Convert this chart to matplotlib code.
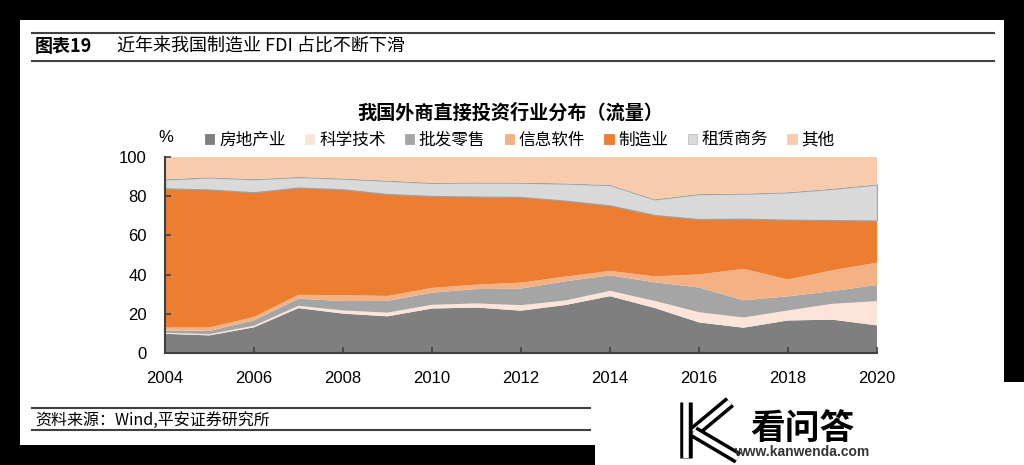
import matplotlib
matplotlib.use("Agg")
import matplotlib.pyplot as plt
from matplotlib.patches import Rectangle, Patch
from matplotlib.lines import Line2D

plt.rcParams['font.family'] = ['Noto Sans CJK SC', 'DejaVu Sans']

years = list(range(2004, 2021))
labels = ['房地产业', '科学技术', '批发零售', '信息软件', '制造业', '租赁商务', '其他']
real_estate = [9.8, 9.0, 13.1, 22.9, 20.1, 18.7, 22.7, 23.2, 21.6, 24.5, 29.0, 23.0, 15.6, 12.9, 16.6, 17.0, 14.1]
science = [0.5, 0.6, 0.8, 1.2, 1.6, 1.9, 1.9, 2.1, 2.8, 2.3, 2.7, 3.6, 5.2, 5.2, 5.1, 8.1, 12.4]
wholesale = [1.2, 1.7, 2.8, 3.6, 4.8, 6.0, 6.2, 7.3, 8.5, 9.8, 7.9, 9.5, 12.6, 8.8, 7.2, 6.5, 8.2]
info_soft = [1.5, 1.7, 1.7, 2.0, 3.0, 2.5, 2.4, 2.3, 3.0, 2.4, 2.3, 3.0, 6.7, 16.0, 8.6, 10.6, 11.4]
manufacturing = [71.0, 70.4, 63.6, 54.7, 54.0, 52.0, 46.9, 44.9, 43.7, 38.7, 33.4, 31.3, 28.2, 25.6, 30.5, 25.6, 21.5]
leasing = [4.6, 6.2, 6.7, 5.4, 5.5, 6.8, 6.7, 7.2, 7.3, 8.8, 10.4, 8.0, 12.8, 12.8, 14.0, 16.0, 18.4]
others = [11.4, 10.4, 11.3, 10.2, 11.0, 12.1, 13.2, 13.0, 13.1, 13.5, 14.3, 21.6, 18.9, 18.7, 18.0, 16.2, 14.0]
colors = ['#7f7f7f', '#fde4d8', '#a5a5a5', '#f4b183', '#ed7d31', '#d9d9d9', '#f8cbad']

fig = plt.figure(figsize=(10.24, 4.65), dpi=100)
fig.patch.set_facecolor('white')

ax = fig.add_axes([165/1024, 1-353/465, 712/1024, 196/465])
polys = ax.stackplot(years, real_estate, science, wholesale, info_soft,
                     manufacturing, leasing, others, colors=colors, linewidth=0)
polys[5].set_edgecolor('#a0a0a0')
polys[5].set_linewidth(0.9)

ax.set_xlim(2004, 2020)
ax.set_ylim(0, 100)
ax.set_xticks(range(2004, 2021, 2))
ax.set_yticks(range(0, 101, 20))
for s in ['top', 'right']:
    ax.spines[s].set_visible(False)
for s in ['left', 'bottom']:
    ax.spines[s].set_color('#404040')
    ax.spines[s].set_linewidth(1.5)
ax.tick_params(direction='in', length=4, width=1.2, color='#404040',
               labelsize=12, pad=13)
for t in ax.get_xticklabels() + ax.get_yticklabels():
    t.set_family(['Liberation Sans Narrow', 'Liberation Sans'])

# chart title and legend
fig.text(510/1024, 1-113/465, '我国外商直接投资行业分布（流量）', ha='center', va='center',
         fontsize=13.8, fontweight='bold')
fig.text(166/1024, 1-137/465, '%', ha='center', va='center', fontsize=12,
         family=['Liberation Sans', 'DejaVu Sans'])
handles = [Patch(facecolor=c, edgecolor='#bfbfbf' if i == 5 else c, linewidth=0.6)
           for i, c in enumerate(colors)]
fig.legend(handles, labels, loc='center', bbox_to_anchor=(520/1024, 1-140/465),
           ncol=7, frameon=False, fontsize=12, handlelength=0.55, handleheight=0.55,
           handletextpad=0.3, columnspacing=1.15, borderpad=0)

# header
for yy in [33, 61]:
    fig.add_artist(Line2D([32/1024, 994/1024], [1-yy/465, 1-yy/465],
                          color='#404040', lw=1.5))
fig.text(35/1024, 1-47/465, '图表19', ha='left', va='center', fontsize=13,
         fontweight='bold')
fig.text(117/1024, 1-47/465, '近年来我国制造业 FDI 占比不断下滑', ha='left', va='center',
         fontsize=13)

# source
for yy in [408, 430]:
    fig.add_artist(Line2D([32/1024, 590/1024], [1-yy/465, 1-yy/465],
                          color='#404040', lw=1.5))
fig.text(35/1024, 1-420/465, '资料来源：Wind,平安证券研究所', ha='left', va='center',
         fontsize=11.5, style='italic')

# watermark
for xs, ys in [([686, 686], [402, 458]), ([730, 694], [402, 432]), ([694, 738], [432, 458])]:
    fig.add_artist(Line2D([x/1024 for x in xs], [1-y/465 for y in ys],
                          color='black', lw=9, solid_capstyle='butt'))
    fig.add_artist(Line2D([x/1024 for x in xs], [1-y/465 for y in ys],
                          color='white', lw=4, solid_capstyle='butt'))
fig.text(802/1024, 1-428/465, '看问答', ha='center', va='center', fontsize=25,
         fontweight='bold')
fig.text(802/1024, 1-452/465, 'www.kanwenda.com', ha='center', va='center', fontsize=10,
         fontweight='bold', color='#333333', family=['Liberation Sans Narrow', 'Liberation Sans'])

# black frame around the scan
for r in [(0, 1-20/465, 1, 20/465), (0, 0, 20/1024, 1),
          (0, 0, 595/1024, 20/465), (1004/1024, 1-382/465, 20/1024, 382/465)]:
    fig.add_artist(Rectangle(r[:2], r[2], r[3], transform=fig.transFigure,
                             facecolor='black', edgecolor='none', zorder=10))

fig.savefig('out.png', dpi=100)
